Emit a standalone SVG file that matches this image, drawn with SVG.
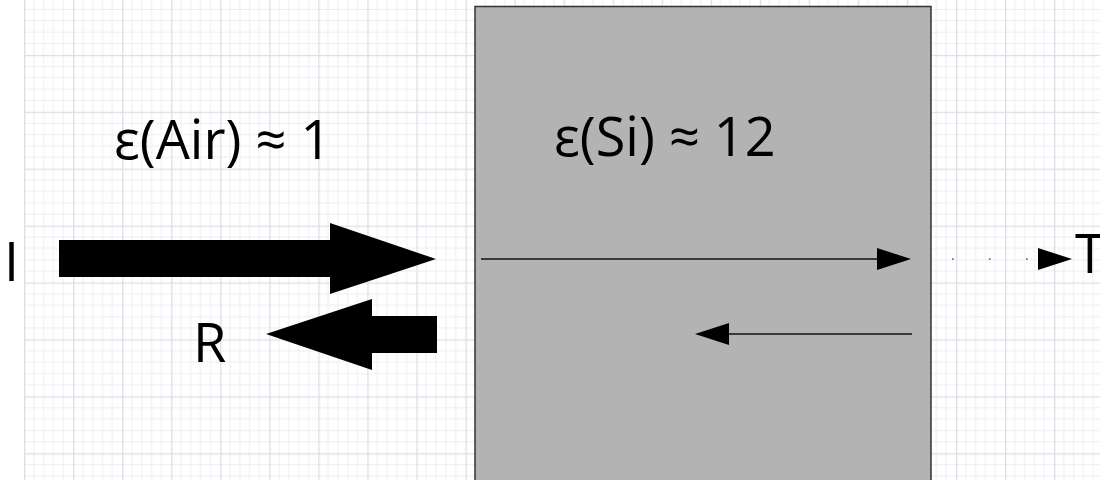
<svg xmlns="http://www.w3.org/2000/svg" width="1100" height="480" viewBox="0 0 1100 480">
<style>
.lbl{font-family:"Open Sans","Liberation Sans",sans-serif;font-size:54px;fill:#000}
.thin{stroke:#111;stroke-width:1.4;fill:none}
.dots{stroke:#555;stroke-width:1.6;fill:none;stroke-dasharray:1.6 35.4}
.big{fill:#000}
</style>
<defs>
<pattern id="grid" patternUnits="userSpaceOnUse" x="24" y="-2" width="49.05" height="56.9">
<g stroke="#ededf4" stroke-width="1">
<line x1="9.81" y1="0" x2="9.81" y2="56.9"/>
<line x1="19.62" y1="0" x2="19.62" y2="56.9"/>
<line x1="29.43" y1="0" x2="29.43" y2="56.9"/>
<line x1="39.24" y1="0" x2="39.24" y2="56.9"/>
<line x1="0" y1="11.38" x2="49.05" y2="11.38"/>
<line x1="0" y1="22.76" x2="49.05" y2="22.76"/>
<line x1="0" y1="34.14" x2="49.05" y2="34.14"/>
<line x1="0" y1="45.52" x2="49.05" y2="45.52"/>
</g>
<g stroke="#dddde8" stroke-width="1.6">
<line x1="0.5" y1="0" x2="0.5" y2="56.9"/>
<line x1="0" y1="0.5" x2="49.05" y2="0.5"/>
</g>
</pattern>
<marker id="head" markerUnits="userSpaceOnUse" markerWidth="36" markerHeight="24" refX="0" refY="11" orient="auto" overflow="visible">
<path d="M0,0 L34,11 L0,22 z" fill="#000"/>
</marker>
</defs>
<rect width="1100" height="480" fill="#fff"/>
<rect id="grid-paper" x="24" y="0" width="1076" height="480" fill="url(#grid)"/>
<g id="silicon">
<rect x="475" y="6.5" width="456" height="480" fill="#b3b3b3" stroke="#333" stroke-width="1.5"/>
<text class="lbl" x="554" y="156">ε(Si) ≈ 12</text>
</g>
<g id="air">
<text class="lbl" x="114" y="159">ε(Air) ≈ 1</text>
</g>
<g id="incident">
<polygon class="big" points="59,240 330,240 330,223 436,259 330,294 330,277 59,277"/>
<text class="lbl" x="4" y="281">I</text>
</g>
<g id="reflected">
<polygon class="big" points="437,316 372,316 372,299 266,334 372,370 372,353 437,353"/>
<text class="lbl" x="193" y="362">R</text>
</g>
<g id="transmitted">
<text class="lbl" x="1075" y="273">T</text>
</g>
<g id="connectors">
<line class="thin" x1="481" y1="259" x2="877" y2="259" marker-end="url(#head)"/>
<line class="thin" x1="912" y1="334" x2="729" y2="334" marker-end="url(#head)"/>
<line class="dots" x1="952" y1="259" x2="1038" y2="259" marker-end="url(#head)"/>
</g>
</svg>
